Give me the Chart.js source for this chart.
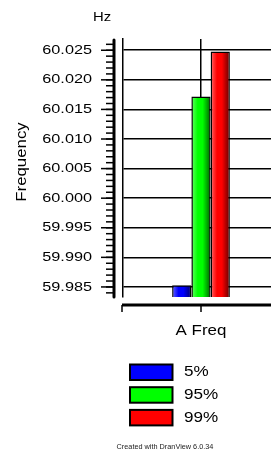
<!DOCTYPE html>
<html><head><meta charset="utf-8">
<script src="https://cdn.jsdelivr.net/npm/chart.js@4/dist/chart.umd.min.js"></script>
<style>
html,body{margin:0;padding:0;background:#fff;overflow:hidden;width:271px;height:452px}
#wrap{position:relative;width:285px;height:452px}
canvas{display:block}
</style></head><body>
<div id="wrap"><canvas id="c" width="285" height="452"></canvas></div>
<script>
// ---- data ----
const categories = ['A Freq'];
const seriesNames = ['5%', '95%', '99%'];
const seriesColors = ['#0000ff', '#00ff00', '#ff0000'];
const p5 = [59.9853];
const p95 = [60.0172];
const p99 = [60.0248];
const yTicks = [59.985, 59.990, 59.995, 60.000, 60.005, 60.010, 60.015, 60.020, 60.025];
const yMin = 59.9833, yMax = 60.0269;
const yTitle = 'Frequency';
const unitLabel = 'Hz';
const credit = 'Created with DranView 6.0.34';

const FONT = '"Liberation Sans", Arial, sans-serif';
function stext(ctx, txt, x, y, size, sx, align, color) {
  ctx.save();
  ctx.font = size + 'px ' + FONT;
  ctx.fillStyle = color || '#000';
  ctx.textBaseline = 'middle';
  ctx.textAlign = align;
  ctx.translate(x, y);
  ctx.scale(sx, 1);
  ctx.fillText(txt, 0, 0);
  ctx.restore();
}

const decor = {
  id: 'decor',
  afterDatasetsDraw(chart) {
    const ctx = chart.ctx;
    const ys = chart.scales.y, xs = chart.scales.x;
    const area = chart.chartArea;
    // bar shading overlay
    chart.data.datasets.forEach((ds, di) => {
      const meta = chart.getDatasetMeta(di);
      meta.data.forEach(el => {
        const bw = 1.5;
        const l = el.x - el.width / 2 + bw, r = el.x + el.width / 2 - bw;
        const t = el.y + bw, b = Math.min(el.base, area.bottom);
        const g = ctx.createLinearGradient(l, 0, r, 0);
        g.addColorStop(0, 'rgba(255,255,255,0.3)');
        g.addColorStop(0.3, 'rgba(255,255,255,0)');
        g.addColorStop(0.6, 'rgba(0,0,0,0)');
        g.addColorStop(1, 'rgba(0,0,0,0.5)');
        ctx.save();
        ctx.fillStyle = g;
        ctx.fillRect(l, t, r - l, b - t);
        ctx.restore();
      });
    });
    // y axis
    const axX = area.left - 9;
    ctx.save();
    ctx.strokeStyle = '#000';
    ctx.lineCap = 'round';
    ctx.lineWidth = 3;
    ctx.beginPath();
    ctx.moveTo(axX, area.top + 1);
    ctx.lineTo(axX, area.bottom);
    ctx.stroke();
    ctx.lineCap = 'butt';
    ctx.lineWidth = 1.5;
    for (let v = Math.ceil(yMin * 1000) / 1000; v <= yMax + 1e-9; v += 0.001) {
      const py = ys.getPixelForValue(v);
      ctx.beginPath();
      ctx.moveTo(axX - 8, py);
      ctx.lineTo(axX, py);
      ctx.stroke();
    }
    yTicks.forEach(v => {
      const py = ys.getPixelForValue(v);
      ctx.beginPath();
      ctx.moveTo(axX - 13, py);
      ctx.lineTo(axX, py);
      ctx.stroke();
      stext(ctx, v.toFixed(3), axX - 22, py, 13, 1.25, 'right');
    });
    // x axis
    const axY = area.bottom + 8;
    ctx.lineWidth = 3;
    ctx.beginPath();
    ctx.moveTo(area.left - 1, axY);
    ctx.lineTo(chart.width, axY);
    ctx.stroke();
    ctx.lineWidth = 1.5;
    [area.left - 1, xs.getPixelForValue(0)].forEach(px => {
      ctx.beginPath();
      ctx.moveTo(px, axY);
      ctx.lineTo(px, axY + 7);
      ctx.stroke();
    });
    ctx.restore();
    stext(ctx, categories[0], xs.getPixelForValue(0), axY + 26, 15, 1.13, 'center');
    // titles
    stext(ctx, unitLabel, 102, 17, 13.5, 1.1, 'center');
    ctx.save();
    ctx.translate(22, (area.top + area.bottom) / 2 - 6);
    ctx.rotate(-Math.PI / 2);
    stext(ctx, yTitle, 0, 0, 14, 1.2, 'center');
    ctx.restore();
    // legend
    ctx.save();
    seriesNames.forEach((n, i) => {
      const top = 364.5 + i * 22.7;
      ctx.fillStyle = seriesColors[i];
      ctx.fillRect(130, top, 42.5, 15.5);
      ctx.strokeStyle = '#000';
      ctx.lineWidth = 2;
      ctx.strokeRect(130, top, 42.5, 15.5);
      stext(ctx, n, 184, top + 8, 14, 1.22, 'left');
    });
    ctx.restore();
    stext(ctx, credit, 165, 447, 7.3, 1.0, 'center', '#222');
  }
};

new Chart(document.getElementById('c'), {
  type: 'bar',
  data: {
    labels: categories,
    datasets: [
      { label: seriesNames[0], data: p5, backgroundColor: seriesColors[0] },
      { label: seriesNames[1], data: p95, backgroundColor: seriesColors[1] },
      { label: seriesNames[2], data: p99, backgroundColor: seriesColors[2] }
    ]
  },
  options: {
    responsive: false,
    animation: false,
    devicePixelRatio: 1,
    layout: { padding: { left: 123, right: 6, top: 39, bottom: 155 } },
    datasets: { bar: { borderColor: '#000', borderWidth: 1.5, categoryPercentage: 0.37, barPercentage: 1 } },
    plugins: { legend: { display: false }, tooltip: { enabled: false }, title: { display: false } },
    scales: {
      x: {
        display: true,
        ticks: { display: false },
        grid: { offset: false, color: '#000', lineWidth: 1.5, drawTicks: false },
        border: { display: false }
      },
      y: {
        min: yMin, max: yMax,
        afterBuildTicks: s => { s.ticks = yTicks.map(v => ({ value: v })); },
        ticks: { display: false },
        grid: { color: '#000', lineWidth: 1.5, drawTicks: false },
        border: { display: true, color: '#000', width: 1.5 }
      }
    }
  },
  plugins: [decor]
});
</script>
</body></html>
